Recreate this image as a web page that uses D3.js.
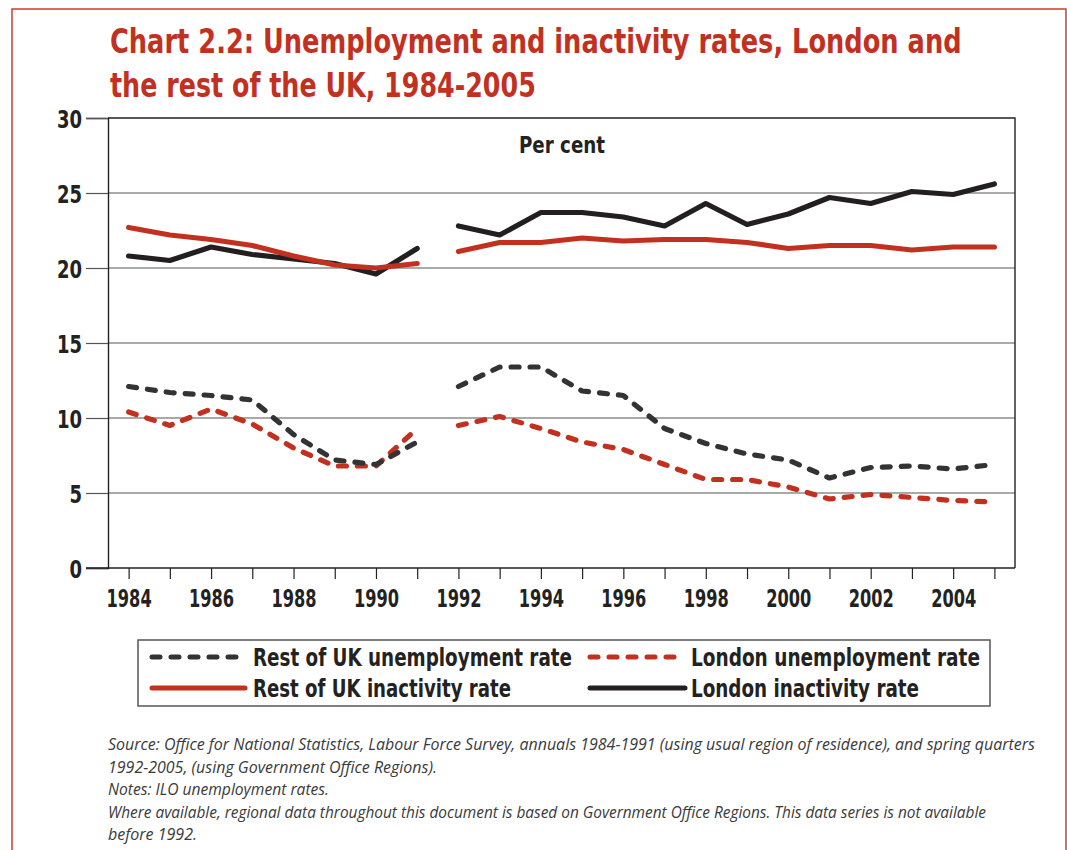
<!DOCTYPE html>
<html>
<head>
<meta charset="utf-8">
<script src="https://cdn.jsdelivr.net/npm/d3@7"></script>
<style>
  body { margin: 0; background: #fff; }
  text { font-family: "Liberation Sans Narrow", "DejaVu Sans Condensed", "Roboto Condensed", sans-serif; }
</style>
</head>
<body>
<svg id="chart" width="1067" height="850"></svg>
<script>
// Annual rates, per cent (1984-1991 annual, 1992-2005 spring quarters)
const years = d3.range(1984, 2006);
const restUnemp   = [12.1, 11.7, 11.5, 11.2, 8.9, 7.2, 6.9, 8.4, 12.1, 13.4, 13.4, 11.8, 11.5, 9.3, 8.3, 7.6, 7.2, 6.0, 6.7, 6.8, 6.6, 6.9];
const londonUnemp = [10.4, 9.5, 10.6, 9.6, 8.0, 6.8, 6.8, 9.3, 9.5, 10.1, 9.3, 8.4, 7.9, 6.9, 5.9, 5.9, 5.4, 4.6, 4.9, 4.7, 4.5, 4.4];
const restInact   = [22.7, 22.2, 21.9, 21.5, 20.8, 20.2, 20.0, 20.3, 21.1, 21.7, 21.7, 22.0, 21.8, 21.9, 21.9, 21.7, 21.3, 21.5, 21.5, 21.2, 21.4, 21.4];
const londonInact = [20.8, 20.5, 21.4, 20.9, 20.6, 20.3, 19.6, 21.3, 22.8, 22.2, 23.7, 23.7, 23.4, 22.8, 24.3, 22.9, 23.6, 24.7, 24.3, 25.1, 24.9, 25.6];
const yTicks = [0, 5, 10, 15, 20, 25, 30];
const xLabelYears = [1984, 1986, 1988, 1990, 1992, 1994, 1996, 1998, 2000, 2002, 2004];
// The regional definition changes in 1992, so each series is drawn in two pieces
const breakYear = 1992;

const RED = "#c2311f";
const BLACK = "#231f20";
const DARK = "#333333";

const svg = d3.select("#chart");

// Fit a text element to a given width
function fit(sel, w) {
  sel.each(function () {
    const l = this.getComputedTextLength();
    if (Math.abs(l - w) > 1) d3.select(this).attr("textLength", w).attr("lengthAdjust", "spacingAndGlyphs");
  });
  return sel;
}
// Squeeze a text element horizontally by a factor
function squeeze(sel, k) {
  sel.each(function () {
    const l = this.getComputedTextLength();
    if (l > 0) d3.select(this).attr("textLength", l * k).attr("lengthAdjust", "spacingAndGlyphs");
  });
  return sel;
}

// Outer panel border
svg.append("rect").attr("x", 12).attr("y", 9).attr("width", 1054).attr("height", 860)
  .attr("fill", "none").attr("stroke", "#d2483a").attr("stroke-width", 1.6);

// Title, narrowed with a horizontal scale so the glyphs keep their height
const titleLines = [
  { t: "Chart 2.2: Unemployment and inactivity rates, London and", y: 53, w: 852 },
  { t: "the rest of the UK, 1984-2005", y: 97, w: 426 }
];
titleLines.forEach(d => {
  const g = svg.append("g");
  const t = g.append("text").attr("x", 0).attr("y", 0)
    .attr("fill", RED).attr("font-weight", "bold").attr("font-size", 34).text(d.t);
  const l = t.node().getComputedTextLength();
  g.attr("transform", `translate(110,${d.y}) scale(${d.w / l},1)`);
});

// Scales
const x = d3.scaleLinear().domain([1983.5, 2005.5]).range([108, 1015]);
const y = d3.scaleLinear().domain([0, 30]).range([568, 118]);

// Gridlines
svg.append("g").selectAll("line").data(yTicks.filter(v => v > 0 && v < 30)).join("line")
  .attr("x1", x(1983.5)).attr("x2", x(2005.5))
  .attr("y1", d => y(d)).attr("y2", d => y(d))
  .attr("stroke", "#555").attr("stroke-width", 1.2);

// Frame: top and right
svg.append("path")
  .attr("d", `M${x(1983.5)},${y(30)}H${x(2005.5)}V${y(0)}`)
  .attr("fill", "none").attr("stroke", "#222").attr("stroke-width", 1.4);

// Y axis
const yAxis = svg.append("g").attr("transform", `translate(${x(1983.5)},0)`)
  .call(d3.axisLeft(y).tickValues(yTicks).tickSize(22).tickPadding(4).tickFormat(d3.format("d")));
yAxis.select(".domain").attr("stroke", "#222").attr("stroke-width", 1.4);
yAxis.selectAll(".tick line").attr("stroke", "#555").attr("stroke-width", 1.2);
yAxis.selectAll(".tick text")
  .attr("font-family", "'Liberation Sans Narrow', 'DejaVu Sans Condensed', sans-serif")
  .attr("font-weight", "bold").attr("font-size", 25).attr("fill", "#222").attr("dy", "0.36em");
squeeze(yAxis.selectAll(".tick text"), 0.8);

// X axis
const xAxis = svg.append("g").attr("transform", `translate(0,${y(0)})`)
  .call(d3.axisBottom(x).tickValues(years).tickSize(11).tickPadding(10)
    .tickFormat(d => xLabelYears.includes(d) ? String(d) : ""));
xAxis.select(".domain").remove();
xAxis.append("line").attr("x1", 86).attr("x2", x(2005.5)).attr("stroke", "#222").attr("stroke-width", 1.6);
xAxis.selectAll(".tick line").attr("stroke", "#222").attr("stroke-width", 1.2);
xAxis.selectAll(".tick text")
  .attr("font-family", "'Liberation Sans Narrow', 'DejaVu Sans Condensed', sans-serif")
  .attr("font-weight", "bold").attr("font-size", 25).attr("fill", "#222");
squeeze(xAxis.selectAll(".tick text").filter(function () { return this.textContent !== ""; }), 0.72);

// "Per cent" label
svg.append("text").attr("x", 562).attr("y", 153).attr("text-anchor", "middle")
  .attr("font-weight", "bold").attr("font-size", 23).attr("fill", "#222").text("Per cent")
  .call(s => fit(s, 86));

// Series
const series = [
  { name: "London inactivity rate", values: londonInact, color: BLACK, dash: null },
  { name: "Rest of UK inactivity rate", values: restInact, color: RED, dash: null },
  { name: "London unemployment rate", values: londonUnemp, color: RED, dash: "8,11" },
  { name: "Rest of UK unemployment rate", values: restUnemp, color: DARK, dash: "8,11" }
];

const line = d3.line().x(d => x(d.year)).y(d => y(d.value));

series.forEach(s => {
  const pts = years.map((yr, i) => ({ year: yr, value: s.values[i] }));
  const pieces = [pts.filter(p => p.year < breakYear), pts.filter(p => p.year >= breakYear)];
  svg.append("g").selectAll("path").data(pieces).join("path")
    .attr("d", line)
    .attr("fill", "none")
    .attr("stroke", s.color)
    .attr("stroke-width", 5.2)
    .attr("stroke-linejoin", "round")
    .attr("stroke-linecap", "round")
    .attr("stroke-dasharray", s.dash);
});

// Legend
const legend = svg.append("g");
legend.append("rect").attr("x", 138).attr("y", 640).attr("width", 852).attr("height", 66)
  .attr("fill", "#fff").attr("stroke", "#555").attr("stroke-width", 1.5);

const legendItems = [
  { label: "Rest of UK unemployment rate", color: DARK, dash: "8,11", sx: 152, sw: 93, tx: 253, ty: 657, tw: 319 },
  { label: "London unemployment rate", color: RED, dash: "8,11", sx: 590, sw: 95, tx: 691, ty: 657, tw: 289 },
  { label: "Rest of UK inactivity rate", color: RED, dash: null, sx: 152, sw: 93, tx: 253, ty: 688, tw: 258 },
  { label: "London inactivity rate", color: BLACK, dash: null, sx: 590, sw: 95, tx: 691, ty: 688, tw: 228 }
];
legendItems.forEach(d => {
  legend.append("line").attr("x1", d.sx).attr("x2", d.sx + d.sw).attr("y1", d.ty).attr("y2", d.ty)
    .attr("stroke", d.color).attr("stroke-width", 5).attr("stroke-linecap", "round")
    .attr("stroke-dasharray", d.dash);
  fit(legend.append("text").attr("x", d.tx).attr("y", d.ty + 8.5)
    .attr("font-weight", "bold").attr("font-size", 25).attr("fill", "#222").text(d.label), d.tw);
});

// Source and notes
const notes = [
  { t: "Source: Office for National Statistics, Labour Force Survey, annuals 1984-1991 (using usual region of residence), and spring quarters", w: 927 },
  { t: "1992-2005, (using Government Office Regions).", w: 329 },
  { t: "Notes: ILO unemployment rates.", w: 221 },
  { t: "Where available, regional data throughout this document is based on Government Office Regions. This data series is not available", w: 878 },
  { t: "before 1992.", w: 89 }
];
const ng = svg.append("g").attr("font-style", "italic").attr("font-size", 15.5).attr("fill", "#3a3a3a");
notes.forEach((n, i) => {
  fit(ng.append("text").attr("x", 108).attr("y", 750 + i * 22.5)
    .style("font-family", "'Open Sans', 'Liberation Sans', sans-serif").text(n.t), n.w);
});
</script>
</body>
</html>
